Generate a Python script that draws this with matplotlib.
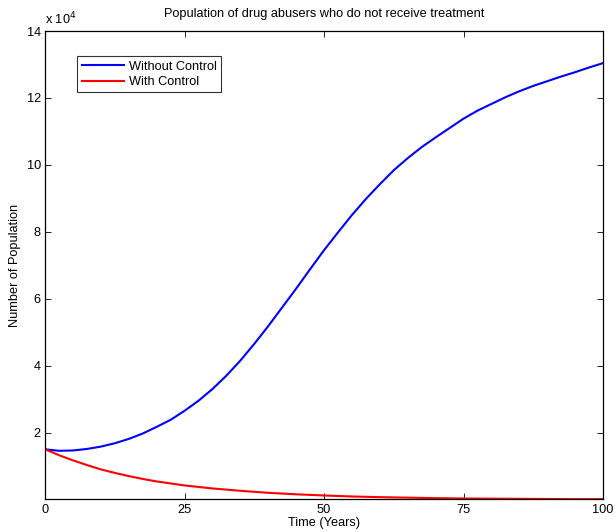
import matplotlib
matplotlib.use("Agg")
import matplotlib.pyplot as plt

plt.rcParams['font.family'] = ['Liberation Sans', 'DejaVu Sans']

# data (population values)
t_without = [0, 2.5, 5, 7.5, 10, 12.5, 15, 17.5, 20, 22.5, 25, 27.5, 30, 32.5, 35, 37.5, 40,
             42.5, 45, 47.5, 50, 52.5, 55, 57.5, 60, 62.5, 65, 67.5, 70, 72.5, 75, 77.5, 80,
             82.5, 85, 87.5, 90, 92.5, 95, 97.5, 100]
pop_without = [15000, 14550, 14650, 15100, 15800, 16800, 18100, 19700, 21700, 23800, 26500,
               29500, 33000, 37000, 41500, 46500, 51800, 57400, 63000, 68800, 74500, 79800,
               85000, 89800, 94200, 98400, 102000, 105300, 108200, 111000, 113800, 116200,
               118200, 120200, 122000, 123600, 125000, 126400, 127700, 129100, 130400]

t_with = [0, 2.5, 5, 7.5, 10, 12.5, 15, 17.5, 20, 25, 30, 35, 40, 45, 50, 55, 60, 65, 70, 75,
          80, 85, 90, 95, 100]
pop_with = [15000, 13250, 11700, 10300, 9000, 7950, 7000, 6150, 5400, 4200, 3300, 2600, 2000,
            1550, 1200, 900, 700, 550, 400, 300, 250, 200, 150, 100, 100]

xticks = [0, 25, 50, 75, 100]
yticks = [20000, 40000, 60000, 80000, 100000, 120000, 140000]

fs = 9.2

fig = plt.figure(figsize=(6.15, 5.32), dpi=100)
ax = fig.add_axes([0.0732, 0.0611, 0.9073, 0.8806])

ax.plot(t_without, pop_without, color='#0000ff', lw=1.5, label='Without Control')
ax.plot(t_with, pop_with, color='#ff0000', lw=1.5, label='With Control')

ax.set_xlim(0, 100)
ax.set_ylim(0, 140000)
ax.set_xticks(xticks)
ax.set_xticklabels([str(x) for x in xticks])
ax.set_yticks(yticks)
ax.set_yticklabels([str(int(y / 1e4)) for y in yticks])
ax.tick_params(direction='in', top=True, right=True, labelsize=fs, length=4, width=0.6, pad=3)
for s in ax.spines.values():
    s.set_linewidth(0.9)

ax.text(0.0, 1.008, r'x 10$^{4}$', transform=ax.transAxes, fontsize=fs, va='bottom', ha='left')

ax.set_title('Population of drug abusers who do not receive treatment', fontsize=fs, pad=10)
ax.set_xlabel('Time (Years)', fontsize=fs, labelpad=1)
ax.set_ylabel('Number of Population', fontsize=fs, labelpad=4)

leg = ax.legend(loc='upper left', bbox_to_anchor=(0.058, 0.946), fontsize=fs, frameon=True,
                fancybox=False, edgecolor='black', handlelength=3.3, borderpad=0.35,
                labelspacing=0.25, handletextpad=0.4, borderaxespad=0)
leg.get_frame().set_linewidth(0.8)

fig.savefig('out.png', dpi=100)
